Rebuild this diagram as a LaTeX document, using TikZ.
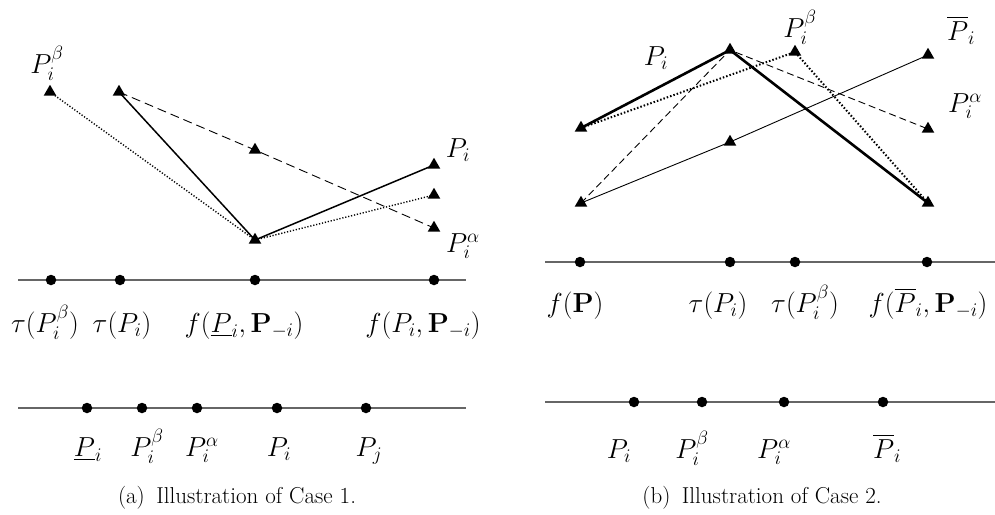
\RequirePackage{fix-cm}
\documentclass[tikz,border=0pt]{standalone}
\usepackage{amsmath}
\usetikzlibrary{shapes.geometric}
\tikzset{
  tri/.style={regular polygon, regular polygon sides=3, fill=black, draw=none, minimum size=14.5pt, inner sep=0pt},
  dot/.style={circle, fill=black, minimum size=10.5pt, inner sep=0pt},
  axis/.style={draw=black!60, line width=1.3pt},
  lbl/.style={font=\fontsize{27.5}{32}\selectfont, inner sep=0pt, anchor=base},
  captxt/.style={font=\fontsize{23}{27}\selectfont, inner sep=0pt, anchor=base},
  solidA/.style={line width=1.5pt},
  dashA/.style={line width=0.9pt, dash pattern=on 9pt off 5pt},
  dotA/.style={line width=1.4pt, dash pattern=on 1.2pt off 1.8pt},
  thickB/.style={line width=2.6pt},
  thinB/.style={line width=0.9pt},
  dashB/.style={line width=0.9pt, dash pattern=on 7pt off 4pt},
  dotB/.style={line width=2pt, dash pattern=on 1.5pt off 2pt},
}
\begin{document}
\begin{tikzpicture}[x=1pt,y=-1pt]
\useasboundingbox (0,0) rectangle (995,514);
% ---------- panel (a) ----------
\node[tri] (a1) at (50,92) {};
\node[tri] (a2) at (119,92) {};
\node[tri] (a3) at (255,150) {};
\node[tri] (a4) at (255,240) {};
\node[tri] (a5) at (434,165) {};
\node[tri] (a6) at (434,195) {};
\node[tri] (a7) at (434,228) {};
\draw[dotA] (a1.center) -- (a4.center);
\draw[solidA] (a2.center) -- (a4.center);
\draw[dashA] (a2.center) -- (a3.center) -- (a7.center);
\draw[solidA] (a4.center) -- (a5.center);
\draw[dotA] (a4.center) -- (a6.center);
\node[lbl] (la1) at (47,73) {$P_i^{\beta}$};
\node[lbl] (la5) at (458,157) {$P_i$};
\node[lbl] (la7) at (463,252) {$P_i^{\alpha}$};
% axis 1 (a)
\coordinate (ax1s) at (18,280);
\coordinate (ax1e) at (466,280);
\draw[axis] (ax1s) -- (ax1e);
\node[dot] (ad1) at (51,280) {};
\node[dot] (ad2) at (120,280) {};
\node[dot] (ad3) at (255,280) {};
\node[dot] (ad4) at (434,280) {};
\node[lbl] (at1) at (45,332) {$\tau(P_i^{\beta})$};
\node[lbl] (at2) at (122,332) {$\tau(P_i)$};
\node[lbl] (at3) at (244,332) {$f(\underline{P}_i,\mathbf{P}_{-i})$};
\node[lbl] (at4) at (423,332) {$f(P_i,\mathbf{P}_{-i})$};
% axis 2 (a)
\coordinate (ax2s) at (18,408);
\coordinate (ax2e) at (466,408);
\draw[axis] (ax2s) -- (ax2e);
\node[dot] (ae1) at (87,408) {};
\node[dot] (ae2) at (142,408) {};
\node[dot] (ae3) at (197,408) {};
\node[dot] (ae4) at (277,408) {};
\node[dot] (ae5) at (366,408) {};
\node[lbl] (au1) at (88,456) {$\underline{P}_i$};
\node[lbl] (au2) at (147,456) {$P_i^{\beta}$};
\node[lbl] (au3) at (202,456) {$P_i^{\alpha}$};
\node[lbl] (au4) at (279,456) {$P_i$};
\node[lbl] (au5) at (369,456) {$P_j$};
\node[captxt] (capa) at (237,503) {(a)\enspace Illustration of Case 1.};
% ---------- panel (b) ----------
\node[tri] (b1) at (730,50) {};
\node[tri] (b2) at (795,52) {};
\node[tri] (b3) at (928,55) {};
\node[tri] (b4) at (581,128) {};
\node[tri] (b5) at (581,203) {};
\node[tri] (b6) at (730,142) {};
\node[tri] (b7) at (928,129) {};
\node[tri] (b8) at (928,203) {};
\draw[thickB] (b4.center) -- (b1.center) -- (b8.center);
\draw[dotB] (b4.center) -- (b2.center) -- (b8.center);
\draw[dashB] (b5.center) -- (b1.center) -- (b7.center);
\draw[thinB] (b5.center) -- (b6.center) -- (b3.center);
\node[lbl] (lb1) at (656,65) {$P_i$};
\node[lbl] (lb2) at (800,37) {$P_i^{\beta}$};
\node[lbl] (lb3) at (961,40) {$\overline{P}_i$};
\node[lbl] (lb7) at (965,112) {$P_i^{\alpha}$};
% axis 1 (b)
\coordinate (bx1s) at (545,262);
\coordinate (bx1e) at (995,262);
\draw[axis] (bx1s) -- (bx1e);
\node[dot] (bd1) at (580,262) {};
\node[dot] (bd2) at (730,262) {};
\node[dot] (bd3) at (795,262) {};
\node[dot] (bd4) at (927,262) {};
\node[lbl] (bt1) at (575,312) {$f(\mathbf{P})$};
\node[lbl] (bt2) at (718,312) {$\tau(P_i)$};
\node[lbl] (bt3) at (805,312) {$\tau(P_i^{\beta})$};
\node[lbl] (bt4) at (928,312) {$f(\overline{P}_i,\mathbf{P}_{-i})$};
% axis 2 (b)
\coordinate (bx2s) at (545,402);
\coordinate (bx2e) at (995,402);
\draw[axis] (bx2s) -- (bx2e);
\node[dot] (be1) at (634,402) {};
\node[dot] (be2) at (702,402) {};
\node[dot] (be3) at (784,402) {};
\node[dot] (be4) at (883,402) {};
\node[lbl] (bu1) at (619,458) {$P_i$};
\node[lbl] (bu2) at (692,458) {$P_i^{\beta}$};
\node[lbl] (bu3) at (774,458) {$P_i^{\alpha}$};
\node[lbl] (bu4) at (887,458) {$\overline{P}_i$};
\node[captxt] (capb) at (762,503) {(b)\enspace Illustration of Case 2.};
\end{tikzpicture}
\end{document}
